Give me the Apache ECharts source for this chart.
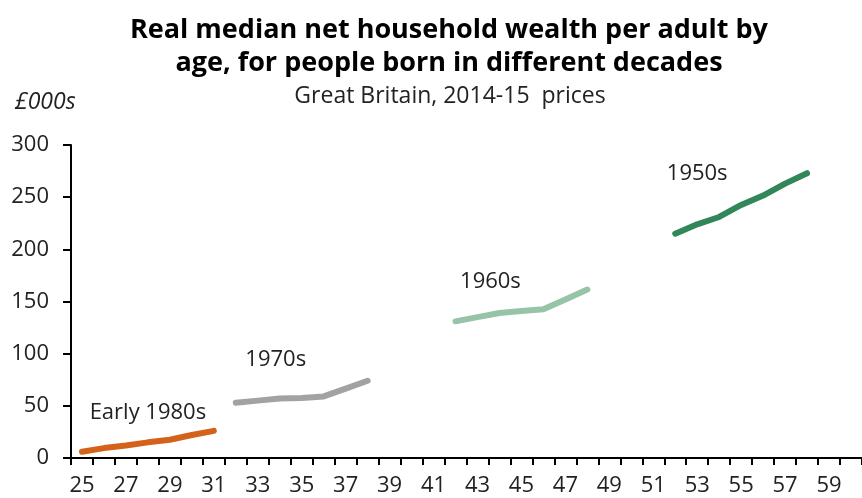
<!DOCTYPE html>
<html>
<head>
<meta charset="utf-8">
<script src="https://cdn.jsdelivr.net/npm/echarts@6/dist/echarts.min.js"></script>
<style>
  html, body { margin: 0; padding: 0; background: #fff; }
  #chart { width: 862px; height: 498px; }
</style>
</head>
<body>
<div id="chart"></div>
<script>
// ages 25..60 on the category axis
const ages = []
for (let a = 25; a <= 60; a++) ages.push(String(a))

const ages1980s = ['25', '26', '27', '28', '29', '30', '31']
const wealth1980s = [6, 9.5, 12, 15, 17.5, 22, 26]

const ages1970s = ['32', '33', '34', '35', '36', '37', '38']
const wealth1970s = [53, 55, 57, 57.5, 59, 66.5, 74]

const ages1960s = ['42', '43', '44', '45', '46', '47', '48']
const wealth1960s = [131, 135, 139, 141, 142.5, 152, 161.5]

const ages1950s = ['52', '53', '54', '55', '56', '57', '58']
const wealth1950s = [215, 224, 231, 242.5, 251.5, 263, 273]

const fontFamily = '"Open Sans", "Noto Sans", sans-serif'

const chart = echarts.init(document.getElementById('chart'))

function pairs(xs, ys) {
  return xs.map((x, i) => [x, ys[i]])
}

function cohort(name, xs, ys, color, labelAt, offset) {
  return {
    name,
    type: 'line',
    data: pairs(xs, ys),
    symbol: 'none',
    lineStyle: { color, width: 6, cap: 'round', join: 'round' },
    silent: true,
    markPoint: {
      symbol: 'circle',
      symbolSize: 0,
      data: [{
        coord: labelAt,
        label: {
          show: true,
          formatter: name,
          position: 'inside',
          offset: offset,
          color: '#222',
          fontSize: 22,
          fontFamily
        }
      }]
    }
  }
}

chart.setOption({
  animation: false,
  title: [
    {
      text: 'Real median net household wealth per adult by\nage, for people born in different decades',
      left: 444,
      top: 9,
      textAlign: 'center',
      textStyle: {
        fontFamily,
        fontWeight: 'bold',
        fontSize: 27,
        lineHeight: 33,
        color: '#000'
      }
    },
    {
      text: 'Great Britain, 2014-15  prices',
      left: 445,
      top: 80,
      textAlign: 'center',
      textStyle: { fontFamily, fontWeight: 'normal', fontSize: 23, color: '#222' }
    },
    {
      text: '£000s',
      left: 10,
      top: 86,
      textStyle: { fontFamily, fontWeight: 'normal', fontStyle: 'italic', fontSize: 23, color: '#222' }
    }
  ],
  grid: { left: 71, right: -4, top: 145, bottom: 40 },
  xAxis: {
    type: 'category',
    data: ages,
    boundaryGap: true,
    axisLine: { lineStyle: { color: '#000', width: 2 } },
    axisTick: { show: true, length: 7, interval: 0, lineStyle: { color: '#000', width: 2 } },
    axisLabel: { interval: 1, margin: 17, fontSize: 22, color: '#222', fontFamily }
  },
  yAxis: {
    type: 'value',
    min: 0,
    max: 300,
    interval: 50,
    axisLine: { show: true, lineStyle: { color: '#000', width: 2 } },
    axisTick: { show: true, length: 8, lineStyle: { color: '#000', width: 2 } },
    axisLabel: { margin: 22, fontSize: 22, color: '#222', fontFamily },
    splitLine: { show: false }
  },
  series: [
    cohort('Early 1980s', ages1980s, wealth1980s, '#D4621A', ['28', 43], [0, 0]),
    cohort('1970s', ages1970s, wealth1970s, '#A2A2A2', ['34', 94], [-4, 0]),
    cohort('1960s', ages1960s, wealth1960s, '#97C4A9', ['44', 169], [-9, 0]),
    cohort('1950s', ages1950s, wealth1950s, '#31865A', ['53', 272], [0, 0])
  ]
})
</script>
</body>
</html>
